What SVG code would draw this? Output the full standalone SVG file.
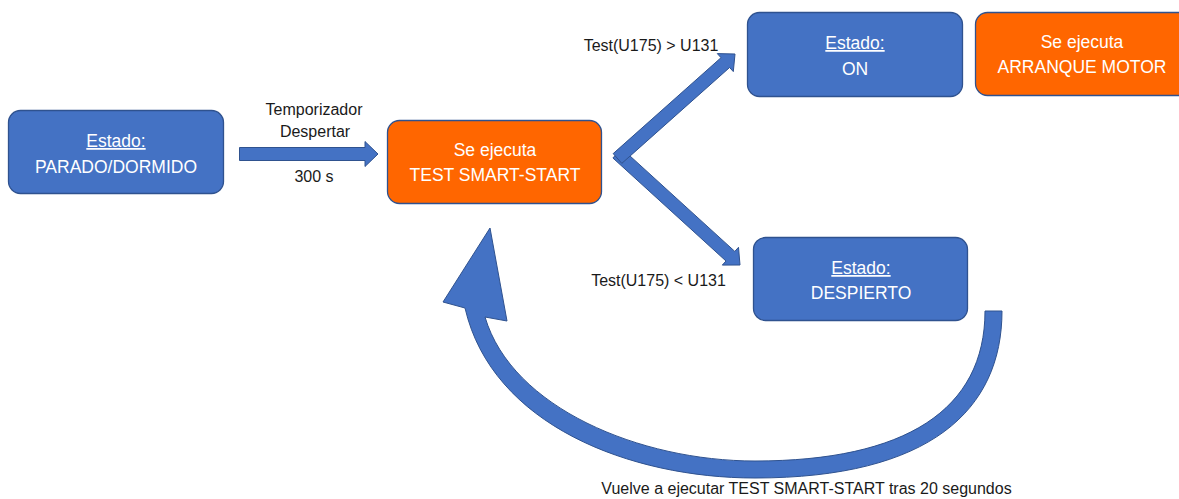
<svg xmlns="http://www.w3.org/2000/svg" width="1179" height="499" viewBox="0 0 1179 499">
<style>
.box{stroke:#2F528F;stroke-width:1.3}
.blue{fill:#4472C4}
.orange{fill:#FF6600}
.bt{font-family:"Liberation Sans",Arial,sans-serif;font-size:17.5px;fill:#FFFFFF;text-anchor:middle}
.u{text-decoration:underline}
.lbl{font-family:"Liberation Sans",Arial,sans-serif;font-size:16px;fill:#1A1A1A;text-anchor:middle}
.arr{fill:#4472C4;stroke:#2F528F;stroke-width:1;stroke-linejoin:miter}
</style>
<rect width="1179" height="499" fill="#FFFFFF"/>
<g id="parado">
<rect class="box blue" x="8.5" y="110.5" width="215" height="83" rx="12"/>
<text class="bt u" x="116" y="147">Estado:</text>
<text class="bt" x="116" y="173">PARADO/DORMIDO</text>
</g>
<g id="test">
<rect class="box orange" x="387.5" y="120.5" width="214" height="83" rx="12"/>
<text class="bt" x="495" y="156">Se ejecuta</text>
<text class="bt" x="495" y="181">TEST SMART-START</text>
</g>
<g id="on">
<rect class="box blue" x="747.5" y="12.5" width="215" height="84" rx="12"/>
<text class="bt u" x="855" y="49">Estado:</text>
<text class="bt" x="855" y="75">ON</text>
</g>
<g id="arranque">
<rect class="box orange" x="975.5" y="12.5" width="215" height="83" rx="12"/>
<text class="bt" x="1082" y="48">Se ejecuta</text>
<text class="bt" x="1082" y="73">ARRANQUE MOTOR</text>
</g>
<g id="despierto">
<rect class="box blue" x="753.5" y="237.5" width="214" height="83" rx="12"/>
<text class="bt u" x="861" y="274">Estado:</text>
<text class="bt" x="861" y="299">DESPIERTO</text>
</g>
<g id="connectors">
<polygon class="arr" points="239.5,147.5 365,147.5 365,141.5 378,154 365,166.5 365,160.5 239.5,160.5"/>
<polygon class="arr" points="612.9,158.0 726.0,261.0 722.3,265.1 740,265 738.5,247.3 734.8,251.4 621.7,148.4"/>
<polygon class="arr" points="613.2,153.6 721.0,57.7 717.3,53.6 735,54 733.3,71.6 729.6,67.5 621.8,163.4"/>
<path class="arr" d="M985,311 L1002,311 C1002,410 930,478 755,478 C630,478 492,425 465,308 L443,302 L490,228 L507,321 L485,317 C512,408 640,461 755,461 C905,461 985,410 985,311 Z"/>
</g>
<g id="labels">
<text class="lbl" x="314" y="115">Temporizador</text>
<text class="lbl" x="315" y="137">Despertar</text>
<text class="lbl" x="314" y="182">300 s</text>
<text class="lbl" x="651" y="51">Test(U175) &gt; U131</text>
<text class="lbl" x="658.5" y="286">Test(U175) &lt; U131</text>
<text class="lbl" x="806.5" y="494">Vuelve a ejecutar TEST SMART-START tras 20 segundos</text>
</g>
</svg>
